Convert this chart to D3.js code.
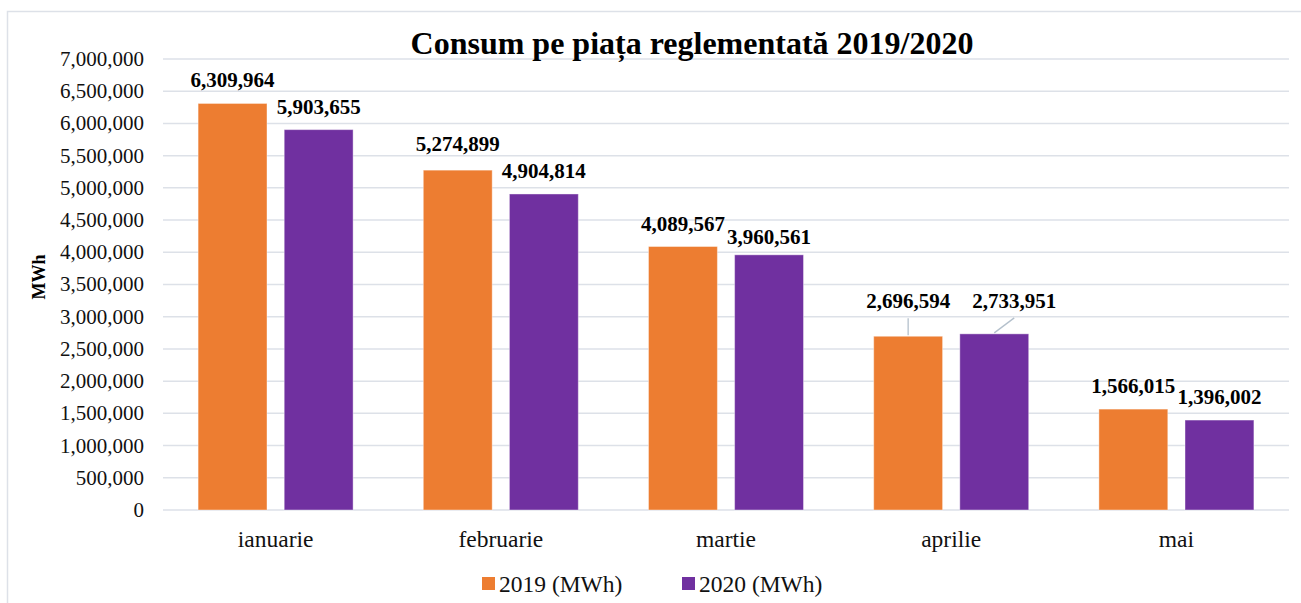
<!DOCTYPE html>
<html>
  <head>
    <meta charset="utf-8">
    <title>Consum pe piața reglementată 2019/2020</title>
    <script src="https://d3js.org/d3.v7.min.js"></script>
    <style>
      body { margin: 0; background: #fff; }
      svg text { font-family: "Liberation Serif", "DejaVu Serif", "Times New Roman", serif; }
      .grid line { stroke: #dde1e8; stroke-width: 1.5; }
      .tick-label { font-size: 21px; fill: #111; }
      .cat-label { font-size: 23.5px; fill: #111; }
      .value { font-size: 21px; font-weight: bold; fill: #000; }
      .leader { stroke: #b4c0cc; stroke-width: 1.3; fill: none; }
    </style>
  </head>
  <body>
    <svg id="chart" width="1301" height="603"></svg>
    <script>
      // data
      const months = ["ianuarie", "februarie", "martie", "aprilie", "mai"];
      const values2019 = [6309964, 5274899, 4089567, 2696594, 1566015];
      const values2020 = [5903655, 4904814, 3960561, 2733951, 1396002];
      const seriesNames = ["2019 (MWh)", "2020 (MWh)"];
      const yTicks = d3.range(0, 7000001, 500000);

      const colors = ["#ed7d31", "#7030a0"];
      // label tweaks (dx, extra lift) where the original moved labels
      const nudge = {
        "martie-1": [0, -5],
        "februarie-0": [0, 3],
        "aprilie-0": [0, 12],
        "aprilie-1": [20, 10]
      };

      const svg = d3.select("#chart");
      const plot = { left: 163, right: 1289, top: 59, bottom: 510 };

      // chart border
      svg.append("rect")
        .attr("x", 7.5).attr("y", 11.5)
        .attr("width", 1310).attr("height", 620)
        .attr("fill", "#fff")
        .attr("stroke", "#dde1e8")
        .attr("stroke-width", 1.5);

      const x = d3.scaleBand()
        .domain(months)
        .range([plot.left, plot.right]);
      const x1 = d3.scaleBand()
        .domain([0, 1])
        .range([0, 155])
        .paddingInner(0.2);
      const y = d3.scaleLinear()
        .domain([0, 7000000])
        .range([plot.bottom, plot.top]);

      // gridlines
      svg.append("g")
        .attr("class", "grid")
        .selectAll("line")
        .data(yTicks)
        .join("line")
          .attr("x1", plot.left).attr("x2", plot.right)
          .attr("y1", d => y(d)).attr("y2", d => y(d));

      // y tick labels
      const fmt = d3.format(",");
      svg.append("g")
        .selectAll("text")
        .data(yTicks)
        .join("text")
          .attr("class", "tick-label")
          .attr("x", 144)
          .attr("y", d => y(d))
          .attr("dy", "0.33em")
          .attr("text-anchor", "end")
          .text(d => fmt(d));

      // y axis title
      svg.append("text")
        .attr("transform", "translate(45,277) rotate(-90)")
        .attr("text-anchor", "middle")
        .style("font-size", "18px")
        .style("font-weight", "bold")
        .text("MWh");

      // bars
      const rows = [];
      months.forEach((m, i) => {
        [values2019[i], values2020[i]].forEach((v, s) => rows.push({ month: m, series: s, value: v }));
      });
      const groupOffset = (x.bandwidth() - x1.range()[1]) / 2;
      const barX = d => x(d.month) + groupOffset + x1(d.series);

      svg.append("g")
        .selectAll("rect")
        .data(rows)
        .join("rect")
          .attr("x", barX)
          .attr("y", d => y(d.value))
          .attr("width", x1.bandwidth())
          .attr("height", d => y(0) - y(d.value))
          .attr("fill", d => colors[d.series])
          .attr("stroke", "#fff")
          .attr("stroke-opacity", 0.4)
          .attr("stroke-width", 1);

      // value labels (with leader lines where moved)
      const labelPos = d => {
        const n = nudge[d.month + "-" + d.series] || [0, 0];
        return [barX(d) + x1.bandwidth() / 2 + n[0], y(d.value) - 16 - n[1]];
      };
      svg.append("g")
        .selectAll("path")
        .data(rows.filter(d => d.month === "aprilie"))
        .join("path")
          .attr("class", "leader")
          .attr("d", d => {
            const p = labelPos(d);
            const bx = barX(d) + x1.bandwidth() / 2;
            return "M" + p[0] + "," + (p[1] + 10) + "L" + bx + "," + (y(d.value) - 1);
          });
      svg.append("g")
        .selectAll("text")
        .data(rows)
        .join("text")
          .attr("class", "value")
          .attr("x", d => labelPos(d)[0])
          .attr("y", d => labelPos(d)[1])
          .attr("text-anchor", "middle")
          .text(d => fmt(d.value));

      // category labels
      svg.append("g")
        .selectAll("text")
        .data(months)
        .join("text")
          .attr("class", "cat-label")
          .attr("x", d => x(d) + x.bandwidth() / 2)
          .attr("y", 547)
          .attr("text-anchor", "middle")
          .text(d => d);

      // title
      svg.append("text")
        .attr("x", 692)
        .attr("y", 54)
        .attr("text-anchor", "middle")
        .style("font-size", "32px")
        .style("font-weight", "bold")
        .text("Consum pe piața reglementată 2019/2020");

      // legend
      const legendX = [482, 682];
      const legend = svg.append("g")
        .selectAll("g")
        .data(seriesNames)
        .join("g")
          .attr("transform", (d, i) => "translate(" + legendX[i] + ",577)");
      legend.append("rect")
        .attr("width", 13).attr("height", 13)
        .attr("fill", (d, i) => colors[i]);
      legend.append("text")
        .attr("class", "cat-label")
        .attr("x", 17)
        .attr("y", 15)
        .text(d => d);
    </script>
  </body>
</html>
